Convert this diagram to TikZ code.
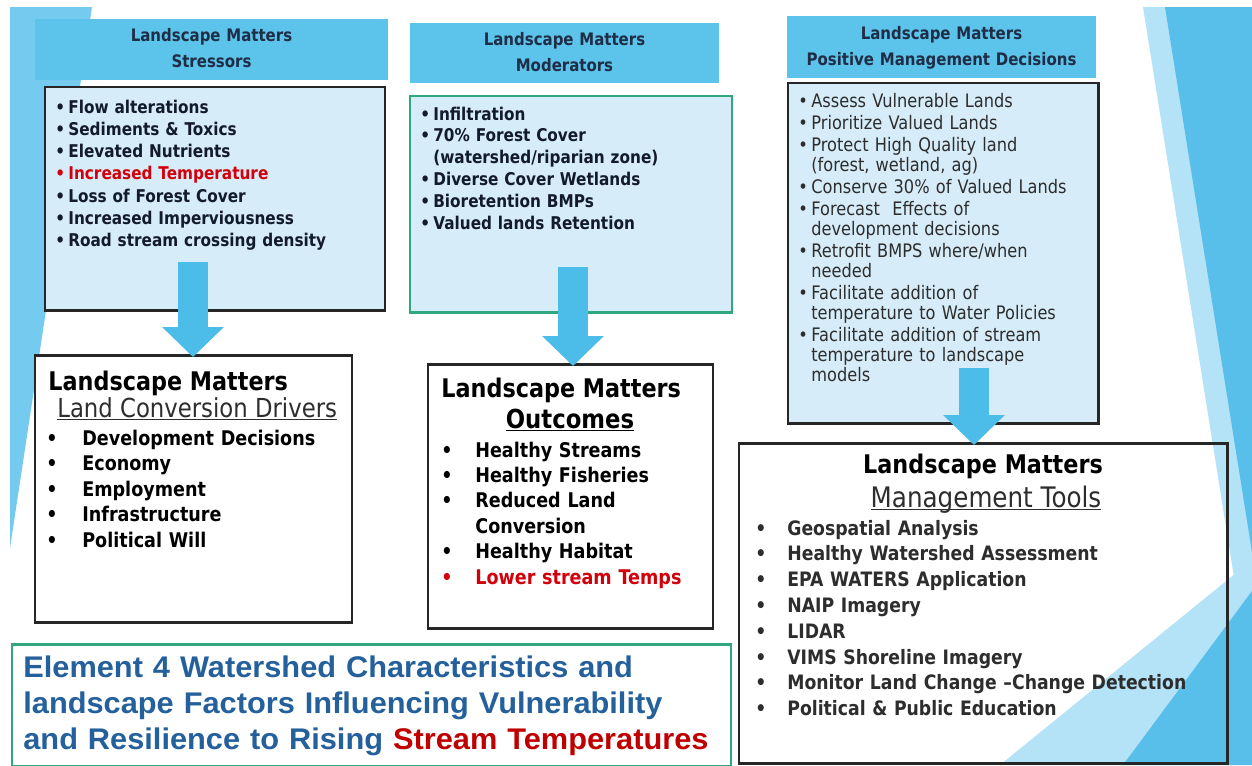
\documentclass[tikz,border=0pt]{standalone}
\usepackage{fontspec}
\setmainfont{DejaVu Sans}[FakeStretch=0.87]
\newfontfamily\ttlfont{Liberation Sans}[FakeStretch=1.03]
\usetikzlibrary{fit,arrows.meta}

\definecolor{hdrblue}{RGB}{92,196,235}
\definecolor{bodyblue}{RGB}{214,236,248}
\definecolor{arrowblue}{RGB}{76,189,232}
\definecolor{navytext}{RGB}{31,45,70}
\definecolor{boxline}{RGB}{38,38,38}
\definecolor{boxgreen}{RGB}{46,168,124}
\definecolor{alertred}{RGB}{210,0,10}
\definecolor{ttlblue}{RGB}{36,96,156}
\definecolor{ttlred}{RGB}{192,0,0}
\definecolor{sidelight}{RGB}{116,203,239}
\definecolor{sidepale}{RGB}{180,226,246}
\definecolor{sideblue}{RGB}{88,190,234}
\definecolor{softgray}{RGB}{45,45,45}

\newcommand{\dotlead}[1]{\makebox[#1][l]{\textbullet}}

\tikzset{
  hdr/.style={fill=hdrblue, inner sep=0pt},
  hdrtxt/.style={anchor=base, inner sep=0pt, text width=#1, align=center, text=navytext,
    font=\fontsize{9.8}{15.1}\selectfont\bfseries},
  lightbox/.style={fill=bodyblue, draw=boxline, line width=1.7pt, inner sep=0pt},
  greenbox/.style={lightbox, draw=boxgreen},
  whitebox/.style={fill=white, draw=boxline, line width=1.7pt, inner sep=0pt},
  txt/.style={anchor=base west, inner sep=0pt, text width=#1, align=left},
  txt/.default=7cm,
  bigtitle/.style={inner sep=0pt, font=\fontsize{14.6}{17}\selectfont\bfseries},
  bigarrow/.style={draw=arrowblue, line width=17.6pt, shorten >=-2pt,
    -{Triangle[width=34pt,length=17pt]}},
}

\begin{document}
\begin{tikzpicture}[x=0.02cm, y=-0.02cm]
  \clip (0,0) rectangle (1252,765);
  \fill[white] (0,0) rectangle (1252,765);

  % slide backdrop
  \fill[sidelight] (10,7) -- (92,7) -- (10,548) -- cycle;
  \fill[sidepale] (1143,7) -- (1252,7) -- (1252,690) -- cycle;
  \fill[sideblue] (1165,7) -- (1252,7) -- (1252,552) -- cycle;
  \fill[sidepale] (1000,765) -- (1252,560) -- (1252,765) -- cycle;
  \fill[sideblue] (1123,765) -- (1252,591) -- (1252,765) -- cycle;

  % top row
  \node[hdr, fit={(35,19) (388,80)}] (hdrA) {};
  \node[hdr, fit={(410,23) (719,83)}] (hdrB) {};
  \node[hdr, fit={(787,16) (1096,78)}] (hdrC) {};
  \node[hdrtxt=7cm] (hdrAtxt) at (211.5,41) {Landscape Matters\\Stressors};
  \node[hdrtxt=6cm] (hdrBtxt) at (564.5,45) {Landscape Matters\\Moderators};
  \node[hdrtxt=6cm] (hdrCtxt) at (941.5,39) {Landscape Matters\\Positive Management Decisions};

  \node[lightbox, fit={(45,87) (385,310)}] (boxA) {};
  \node[greenbox, fit={(410,96) (732,312)}] (boxB) {};
  \node[lightbox, fit={(788,83) (1098,423)}] (boxC) {};

  \node[txt, text=navytext!60!black, font=\fontsize{10}{12.7}\selectfont\bfseries] (lstA) at (55,113) {%
    \dotlead{0.26cm}Flow alterations\\
    \dotlead{0.26cm}Sediments \& Toxics\\
    \dotlead{0.26cm}Elevated Nutrients\\
    {\color{alertred}\dotlead{0.26cm}Increased Temperature}\\
    \dotlead{0.26cm}Loss of Forest Cover\\
    \dotlead{0.26cm}Increased Imperviousness\\
    \dotlead{0.26cm}Road stream crossing density};

  \node[txt, text=navytext!60!black, font=\fontsize{10}{12.5}\selectfont\bfseries] (lstB) at (420,120) {%
    \dotlead{0.26cm}Infiltration\\
    \dotlead{0.26cm}70\% Forest Cover\\
    \hspace*{0.26cm}(watershed/riparian zone)\\
    \dotlead{0.26cm}Diverse Cover Wetlands\\
    \dotlead{0.26cm}Bioretention BMPs\\
    \dotlead{0.26cm}Valued lands Retention};

  \node[txt, text=softgray, font=\fontsize{10.6}{11.2}\selectfont] (lstC) at (798,107) {%
    \dotlead{0.26cm}Assess Vulnerable Lands\\[1.5pt]
    \dotlead{0.26cm}Prioritize Valued Lands\\[1.5pt]
    \dotlead{0.26cm}Protect High Quality land\\
    \hspace*{0.26cm}(forest, wetland, ag)\\[1.5pt]
    \dotlead{0.26cm}Conserve 30\% of Valued Lands\\[1.5pt]
    \dotlead{0.26cm}Forecast\ \ Effects of\\
    \hspace*{0.26cm}development decisions\\[1.5pt]
    \dotlead{0.26cm}Retrofit BMPS where/when\\
    \hspace*{0.26cm}needed\\[1.5pt]
    \dotlead{0.26cm}Facilitate addition of\\
    \hspace*{0.26cm}temperature to Water Policies\\[1.5pt]
    \dotlead{0.26cm}Facilitate addition of stream\\
    \hspace*{0.26cm}temperature to landscape\\
    \hspace*{0.26cm}models};

  % lower row
  \node[whitebox, fit={(35,355) (352,622)}] (boxD) {};
  \node[whitebox, fit={(428,364) (713,628)}] (boxE) {};
  \node[whitebox, fill=none, fit={(739,443) (1227,763)}] (boxF) {};

  \node[bigtitle, anchor=base west] (ttlD) at (48,390) {Landscape Matters};
  \node[anchor=base west, inner sep=0pt, text=softgray, font=\fontsize{14.9}{17}\selectfont] (subD) at (57,417)
    {\underline{\smash{Land Conversion Drivers}}};
  \node[txt, font=\fontsize{11.5}{14.6}\selectfont\bfseries] (lstD) at (46,445) {%
    \dotlead{0.72cm}Development Decisions\\
    \dotlead{0.72cm}Economy\\
    \dotlead{0.72cm}Employment\\
    \dotlead{0.72cm}Infrastructure\\
    \dotlead{0.72cm}Political Will};

  \node[bigtitle, anchor=base west] (ttlE) at (441,397) {Landscape Matters};
  \node[anchor=base, inner sep=0pt, font=\fontsize{14.9}{17}\selectfont\bfseries] (subE) at (570,428)
    {\underline{\smash{Outcomes}}};
  \node[txt, font=\fontsize{11.5}{14.5}\selectfont\bfseries] (lstE) at (441,457) {%
    \dotlead{0.68cm}Healthy Streams\\
    \dotlead{0.68cm}Healthy Fisheries\\
    \dotlead{0.68cm}Reduced Land\\
    \hspace*{0.68cm}Conversion\\
    \dotlead{0.68cm}Healthy Habitat\\
    {\color{alertred}\dotlead{0.68cm}Lower stream Temps}};

  \node[bigtitle, anchor=base] (ttlF) at (983,473) {Landscape Matters};
  \node[anchor=base, inner sep=0pt, text=softgray, font=\fontsize{16.1}{18}\selectfont] (subF) at (986,507)
    {\underline{\smash{Management Tools}}};
  \node[txt=9.5cm, text=softgray, font=\fontsize{11.3}{14.7}\selectfont\bfseries] (lstF) at (755,535) {%
    \dotlead{0.64cm}Geospatial Analysis\\
    \dotlead{0.64cm}Healthy Watershed Assessment\\
    \dotlead{0.64cm}EPA WATERS Application\\
    \dotlead{0.64cm}NAIP Imagery\\
    \dotlead{0.64cm}LIDAR\\
    \dotlead{0.64cm}VIMS Shoreline Imagery\\
    \dotlead{0.64cm}Monitor Land Change --Change Detection\\
    \dotlead{0.64cm}Political \& Public Education};

  % slide title
  \node[draw=boxgreen, line width=1.7pt, inner sep=0pt, fit={(12,644) (731,766)}] (boxG) {};
  \node[txt=14cm, text=ttlblue, font=\ttlfont\bfseries\fontsize{17}{20.7}\selectfont] (ttlG) at (23,677) {%
    Element 4 Watershed Characteristics and\\
    landscape Factors Influencing Vulnerability\\
    and Resilience to Rising {\color{ttlred}Stream Temperatures}};

  % flow arrows
  \coordinate (arrA) at (193,262);
  \coordinate (arrB) at (573,267);
  \coordinate (arrC) at (974,368);
  \draw[bigarrow] (arrA) -- (arrA |- boxD.north);
  \draw[bigarrow] (arrB) -- (arrB |- boxE.north);
  \draw[bigarrow] (arrC) -- (arrC |- boxF.north);
\end{tikzpicture}
\end{document}
